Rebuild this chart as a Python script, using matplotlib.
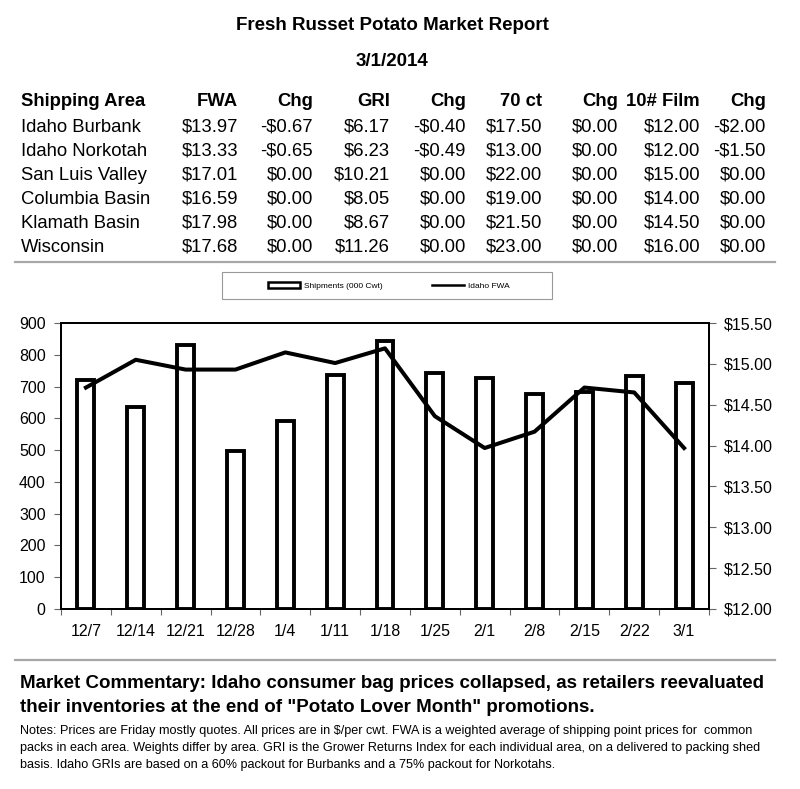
import matplotlib
matplotlib.use("Agg")
import matplotlib.pyplot as plt
from matplotlib.patches import Patch, Rectangle
from matplotlib.lines import Line2D
import numpy as np

plt.rcParams['font.family'] = ['Liberation Sans', 'DejaVu Sans']

# Данные таблицы
header = ["Shipping Area", "FWA", "Chg", "GRI", "Chg", "70 ct", "Chg", "10# Film", "Chg"]
areas = ["Idaho Burbank", "Idaho Norkotah", "San Luis Valley", "Columbia Basin", "Klamath Basin", "Wisconsin"]
fwa = ["$13.97", "$13.33", "$17.01", "$16.59", "$17.98", "$17.68"]
fwa_chg = ["-$0.67", "-$0.65", "$0.00", "$0.00", "$0.00", "$0.00"]
gri = ["$6.17", "$6.23", "$10.21", "$8.05", "$8.67", "$11.26"]
gri_chg = ["-$0.40", "-$0.49", "$0.00", "$0.00", "$0.00", "$0.00"]
ct70 = ["$17.50", "$13.00", "$22.00", "$19.00", "$21.50", "$23.00"]
ct70_chg = ["$0.00", "$0.00", "$0.00", "$0.00", "$0.00", "$0.00"]
film = ["$12.00", "$12.00", "$15.00", "$14.00", "$14.50", "$16.00"]
film_chg = ["-$2.00", "-$1.50", "$0.00", "$0.00", "$0.00", "$0.00"]

# Данные графика
weeks = ["12/7", "12/14", "12/21", "12/28", "1/4", "1/11", "1/18", "1/25", "2/1", "2/8", "2/15", "2/22", "3/1"]
shipments = [720, 635, 830, 496, 592, 736, 843, 742, 726, 677, 684, 734, 712]
idaho_fwa = [14.71, 15.05, 14.93, 14.93, 15.14, 15.01, 15.19, 14.36, 13.97, 14.17, 14.71, 14.65, 13.97]

W, H = 800, 789
fig = plt.figure(figsize=(8, 7.89), dpi=100)


def fx(px):
    return px / W


def fy(py):
    return 1 - py / H


# Заголовок
fig.text(0.49, fy(25), "Fresh Russet Potato Market Report", ha='center', va='center',
         fontsize=13.5, fontweight='bold')
fig.text(0.49, fy(62), "3/1/2014", ha='center', va='center', fontsize=13.5, fontweight='bold')

# Таблица
col_right = [238, 313, 390, 466, 542, 618, 700, 766]
row_y = [102, 127, 151, 175, 199, 223, 247]
fs_tab = 13.3
fig.text(fx(21), fy(row_y[0]), header[0], ha='left', va='center', fontsize=fs_tab, fontweight='bold')
for h, x in zip(header[1:], col_right):
    fig.text(fx(x), fy(row_y[0]), h, ha='right', va='center', fontsize=fs_tab, fontweight='bold')
cols = [fwa, fwa_chg, gri, gri_chg, ct70, ct70_chg, film, film_chg]
for i, area in enumerate(areas):
    y = fy(row_y[i + 1])
    fig.text(fx(21), y, area, ha='left', va='center', fontsize=fs_tab)
    for col, x in zip(cols, col_right):
        fig.text(fx(x), y, col[i], ha='right', va='center', fontsize=fs_tab)

fig.add_artist(Line2D([fx(15), fx(775)], [fy(262), fy(262)], color='#a8a8a8', lw=1.6))
fig.add_artist(Line2D([fx(15), fx(775)], [fy(660), fy(660)], color='#a8a8a8', lw=1.6))

# График
ax = fig.add_axes([fx(61), fy(609), fx(709) - fx(61), fy(323) - fy(609)])
x = np.arange(len(weeks))
ax.bar(x, shipments, width=0.34, color='white', edgecolor='black', linewidth=2.8, zorder=2)
ax.set_xlim(-0.5, len(weeks) - 0.5)
ax.set_ylim(0, 900)
ax.set_yticks(np.arange(0, 901, 100))
ax.set_xticks(x)
ax.set_xticklabels(weeks)
ax.set_xticks(np.arange(-0.5, len(weeks), 1), minor=True)
ax.tick_params(axis='x', which='major', length=0, pad=11, labelsize=11.5)
ax.tick_params(axis='x', which='minor', length=4, width=0.8, color='#666666')
ax.tick_params(axis='y', length=5, width=0.8, color='#666666', pad=6, labelsize=11.5)
for s in ax.spines.values():
    s.set_linewidth(1.4)

ax2 = ax.twinx()
ax2.plot(x, idaho_fwa, color='black', lw=2.9, zorder=3)
ax2.set_ylim(12, 15.5)
ax2.set_yticks(np.arange(12, 15.51, 0.5))
ax2.set_yticklabels(["$%.2f" % v for v in np.arange(12, 15.51, 0.5)])
ax2.tick_params(axis='y', length=5, width=0.8, color='#666666', pad=6, labelsize=11.5)
for s in ax2.spines.values():
    s.set_linewidth(1.4)

# Легенда
fig.add_artist(Rectangle((fx(222), fy(299)), fx(552) - fx(222), fy(272) - fy(299),
                         fill=False, edgecolor='#999999', lw=0.8))
handles = [Patch(facecolor='white', edgecolor='black', linewidth=1.8),
           Line2D([0], [0], color='black', lw=1.8)]
fig.legend(handles, ["Shipments (000 Cwt)", "Idaho FWA"], loc='center',
           bbox_to_anchor=(fx(389), fy(286)), ncol=2, frameon=False, fontsize=6,
           handlelength=3.8, handleheight=0.6, handletextpad=0.5, columnspacing=6)

# Комментарий и примечания
fig.text(fx(20), fy(684), "Market Commentary: Idaho consumer bag prices collapsed, as retailers reevaluated",
         ha='left', va='center', fontsize=13.5, fontweight='bold')
fig.text(fx(20), fy(708), 'their inventories at the end of "Potato Lover Month" promotions.',
         ha='left', va='center', fontsize=13.5, fontweight='bold')
notes = ["Notes: Prices are Friday mostly quotes. All prices are in $/per cwt. FWA is a weighted average of shipping point prices for  common",
         "packs in each area. Weights differ by area. GRI is the Grower Returns Index for each individual area, on a delivered to packing shed",
         "basis. Idaho GRIs are based on a 60% packout for Burbanks and a 75% packout for Norkotahs."]
for i, line in enumerate(notes):
    fig.text(fx(20), fy(731 + 17 * i), line, ha='left', va='center', fontsize=9.1)

fig.savefig("out.png", dpi=100)
